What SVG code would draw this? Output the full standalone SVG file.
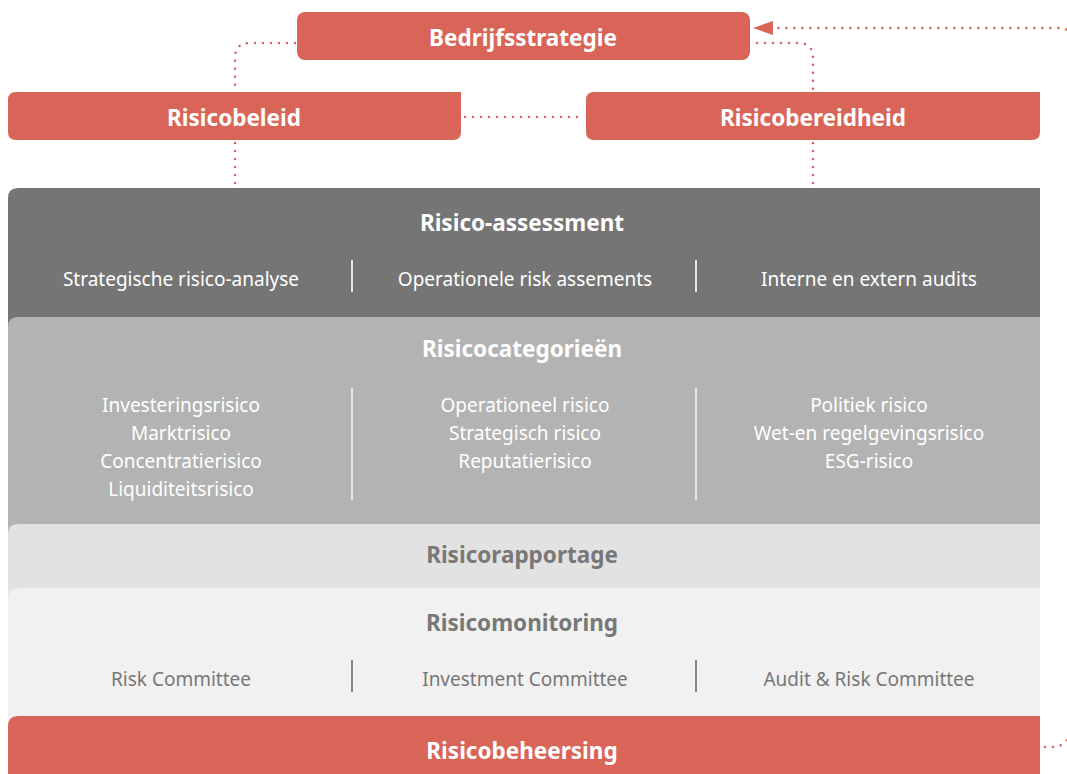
<svg xmlns="http://www.w3.org/2000/svg" width="1067" height="774" viewBox="0 0 1067 774">
<style>
.red{fill:#d96558}
.t{font-family:"Noto Sans","Liberation Sans",Arial,sans-serif;text-anchor:middle;dominant-baseline:central}
.b{font-weight:bold;font-size:22.5px}
.s{font-size:19px}
.w{fill:#ffffff}
.dot{fill:none;stroke:#d96558;stroke-width:2.6;stroke-linecap:round;stroke-dasharray:0 8}
.div{stroke:#e6e6e6;stroke-width:2}
</style>
<rect width="1067" height="774" fill="#ffffff"/>
<g id="connectors">
<path class="dot" d="M295,43 L250,43 Q235,43 235,58 L235,90"/>
<path class="dot" d="M235,143 L235,186"/>
<path class="dot" d="M465,117 L583,117"/>
<path class="dot" d="M757,43 L798,43 Q813,43 813,58 L813,90"/>
<path class="dot" d="M813,143 L813,186"/>
<path class="dot" d="M1078,40 Q1070,28 1058,28 L775,28"/>
<polygon points="753,28 773,21 773,35" fill="#d96558"/>
<path class="dot" d="M1045,747 L1055,747 Q1064,746 1070,736"/>
</g>
<g id="bedrijfsstrategie">
<rect class="red" x="297" y="12" width="453" height="48" rx="8"/>
<text class="t b w" x="523" y="37">Bedrijfsstrategie</text>
</g>
<g id="risicobeleid">
<path class="red" d="M8,100 Q8,92 16,92 L461,92 L461,132 Q461,140 453,140 L16,140 Q8,140 8,132 Z"/>
<text class="t b w" x="234" y="117">Risicobeleid</text>
</g>
<g id="risicobereidheid">
<path class="red" d="M586,100 Q586,92 594,92 L1040,92 L1040,132 Q1040,140 1032,140 L594,140 Q586,140 586,132 Z"/>
<text class="t b w" x="813" y="117">Risicobereidheid</text>
</g>
<g id="risico-assessment">
<path d="M8,198 Q8,188 18,188 L1040,188 L1040,340 L8,340 Z" fill="#757575"/>
<text class="t b w" x="522" y="222">Risico-assessment</text>
<text class="t s w" x="181" y="279">Strategische risico-analyse</text>
<text class="t s w" x="525" y="279">Operationele risk assements</text>
<text class="t s w" x="869" y="279">Interne en extern audits</text>
<line class="div" x1="352" y1="260" x2="352" y2="292"/>
<line class="div" x1="696" y1="260" x2="696" y2="292"/>
</g>
<g id="risicocategorieen">
<path d="M8,327 Q8,317 18,317 L1040,317 L1040,540 L8,540 Z" fill="#b3b3b3"/>
<text class="t b w" x="522" y="348">Risicocategorieën</text>
<text class="t s w" x="181" y="405">Investeringsrisico</text>
<text class="t s w" x="181" y="433">Marktrisico</text>
<text class="t s w" x="181" y="461">Concentratierisico</text>
<text class="t s w" x="181" y="489">Liquiditeitsrisico</text>
<text class="t s w" x="525" y="405">Operationeel risico</text>
<text class="t s w" x="525" y="433">Strategisch risico</text>
<text class="t s w" x="525" y="461">Reputatierisico</text>
<text class="t s w" x="869" y="405">Politiek risico</text>
<text class="t s w" x="869" y="433">Wet-en regelgevingsrisico</text>
<text class="t s w" x="869" y="461">ESG-risico</text>
<line class="div" x1="352" y1="388" x2="352" y2="500"/>
<line class="div" x1="696" y1="388" x2="696" y2="500"/>
</g>
<g id="risicorapportage">
<path d="M8,534 Q8,524 18,524 L1040,524 L1040,600 L8,600 Z" fill="#e2e2e2"/>
<text class="t b" x="522" y="554" fill="#787878">Risicorapportage</text>
</g>
<g id="risicomonitoring">
<path d="M8,598 Q8,588 18,588 L1040,588 L1040,730 L8,730 Z" fill="#f1f1f1"/>
<text class="t b" x="522" y="622" fill="#787878">Risicomonitoring</text>
<text class="t s" x="181" y="679" fill="#777777">Risk Committee</text>
<text class="t s" x="525" y="679" fill="#777777">Investment Committee</text>
<text class="t s" x="869" y="679" fill="#777777">Audit &amp; Risk Committee</text>
<line x1="352" y1="660" x2="352" y2="692" stroke="#888888" stroke-width="2"/>
<line x1="696" y1="660" x2="696" y2="692" stroke="#888888" stroke-width="2"/>
</g>
<g id="risicobeheersing">
<path class="red" d="M8,726 Q8,716 18,716 L1040,716 L1040,780 L8,780 Z"/>
<text class="t b w" x="522" y="750">Risicobeheersing</text>
</g>
</svg>
